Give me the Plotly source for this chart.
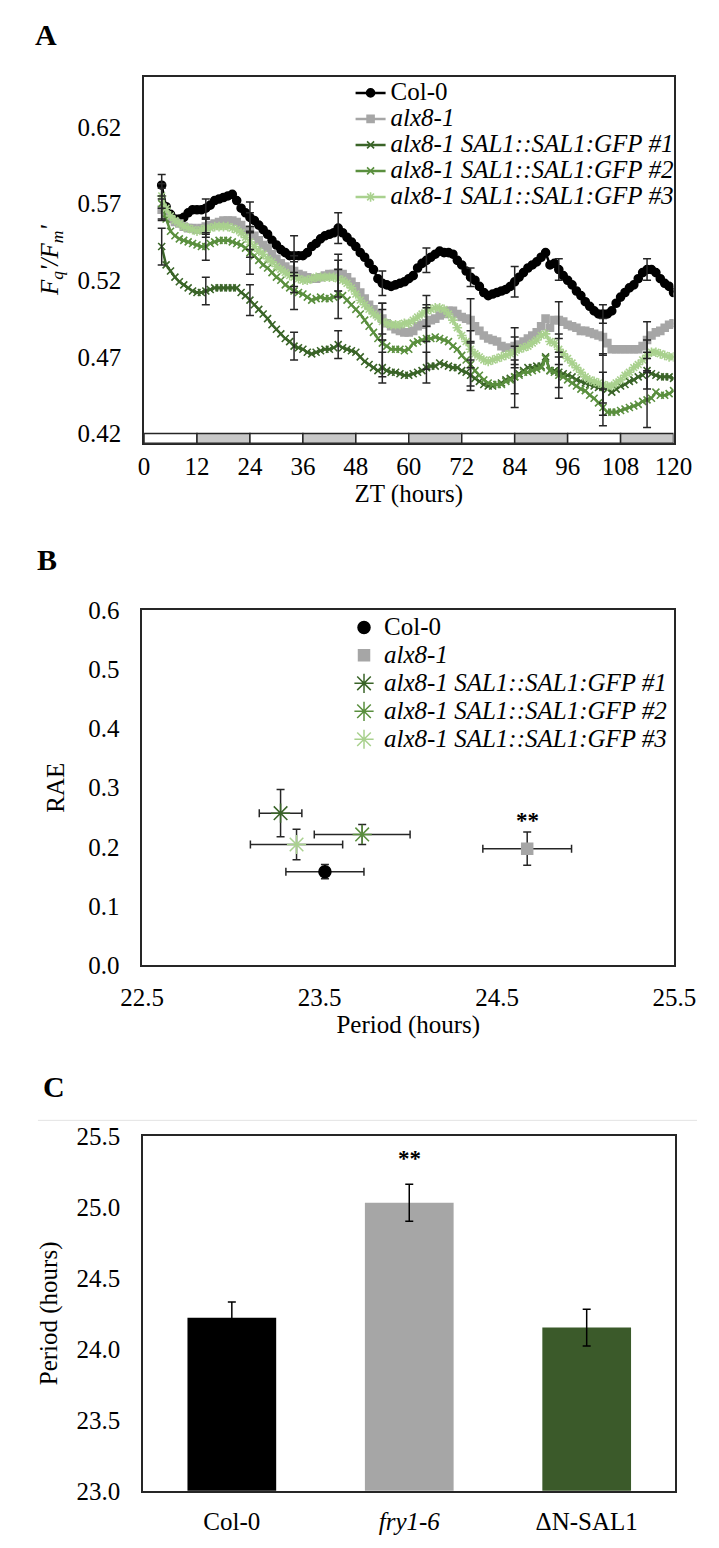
import plotly.graph_objects as go

FONT = "Liberation Serif, Times New Roman, Times, serif"
W, H = 719, 1548

# ---------------- Panel A data (ZT hours, Fq'/Fm') ----------------
zt = list(range(4, 121))
col0 = [0.582, 0.568, 0.563, 0.560, 0.560, 0.561, 0.564, 0.566, 0.566, 0.566,
        0.567, 0.569, 0.572, 0.573, 0.574, 0.575, 0.576, 0.572, 0.567, 0.564,
        0.561, 0.559, 0.556, 0.553, 0.550, 0.546, 0.543, 0.540, 0.538, 0.536,
        0.536, 0.536, 0.536, 0.538, 0.542, 0.544, 0.547, 0.549, 0.550, 0.551,
        0.554, 0.551, 0.548, 0.545, 0.542, 0.538, 0.535, 0.531, 0.527, 0.521,
        0.518, 0.517, 0.516, 0.517, 0.518, 0.519, 0.521, 0.523, 0.528, 0.531,
        0.533, 0.535, 0.537, 0.539, 0.538, 0.538, 0.537, 0.533, 0.530, 0.526,
        0.522, 0.520, 0.516, 0.512, 0.510, 0.511, 0.512, 0.513, 0.514, 0.516,
        0.519, 0.522, 0.525, 0.528, 0.530, 0.532, 0.535, 0.538, 0.530, 0.531,
        0.527, 0.523, 0.520, 0.517, 0.513, 0.510, 0.506, 0.503, 0.500, 0.498,
        0.498, 0.498, 0.500, 0.505, 0.509, 0.512, 0.515, 0.517, 0.521, 0.525,
        0.527, 0.527, 0.525, 0.521, 0.518, 0.516, 0.512]
alx8 = [0.566, 0.562, 0.560, 0.558, 0.557, 0.555, 0.554, 0.554, 0.553, 0.554,
        0.555, 0.556, 0.557, 0.558, 0.559, 0.559, 0.559, 0.558, 0.556, 0.553,
        0.552, 0.549, 0.546, 0.543, 0.541, 0.537, 0.534, 0.531, 0.529, 0.527,
        0.526, 0.524, 0.523, 0.522, 0.521, 0.521, 0.522, 0.523, 0.524, 0.524,
        0.525, 0.524, 0.522, 0.519, 0.516, 0.512, 0.508, 0.504, 0.501, 0.498,
        0.495, 0.492, 0.490, 0.488, 0.487, 0.486, 0.486, 0.487, 0.490, 0.491,
        0.492, 0.494, 0.495, 0.497, 0.498, 0.500, 0.500, 0.498, 0.496, 0.495,
        0.494, 0.490, 0.487, 0.484, 0.482, 0.481, 0.480, 0.477, 0.476, 0.476,
        0.477, 0.478, 0.480, 0.482, 0.484, 0.486, 0.490, 0.495, 0.489, 0.494,
        0.494, 0.493, 0.491, 0.490, 0.489, 0.487, 0.487, 0.486, 0.485, 0.484,
        0.483, 0.479, 0.475, 0.475, 0.475, 0.475, 0.475, 0.475, 0.475, 0.477,
        0.481, 0.484, 0.486, 0.487, 0.489, 0.491, 0.492]
gfp1 = [0.542, 0.530, 0.526, 0.522, 0.519, 0.517, 0.515, 0.513, 0.512, 0.512,
        0.513, 0.514, 0.515, 0.515, 0.515, 0.515, 0.515, 0.515, 0.512, 0.510,
        0.507, 0.504, 0.501, 0.498, 0.495, 0.491, 0.488, 0.485, 0.482, 0.480,
        0.477, 0.476, 0.475, 0.473, 0.472, 0.473, 0.474, 0.475, 0.475, 0.476,
        0.478, 0.476, 0.475, 0.474, 0.473, 0.470, 0.467, 0.465, 0.463, 0.461,
        0.463, 0.461, 0.460, 0.460, 0.459, 0.458, 0.458, 0.459, 0.460, 0.461,
        0.463, 0.464, 0.464, 0.466, 0.465, 0.464, 0.463, 0.463, 0.461, 0.460,
        0.458, 0.456, 0.454, 0.452, 0.451, 0.451, 0.452, 0.453, 0.455, 0.456,
        0.457, 0.459, 0.461, 0.463, 0.463, 0.464, 0.464, 0.470, 0.461, 0.461,
        0.460, 0.459, 0.458, 0.457, 0.455, 0.454, 0.453, 0.452, 0.451, 0.450,
        0.450, 0.449, 0.447, 0.449, 0.451, 0.452, 0.454, 0.455, 0.457, 0.458,
        0.461, 0.459, 0.458, 0.457, 0.457, 0.457, 0.456]
gfp2 = [0.570, 0.560, 0.552, 0.549, 0.547, 0.546, 0.545, 0.544, 0.543, 0.542,
        0.542, 0.544, 0.545, 0.546, 0.546, 0.546, 0.545, 0.544, 0.543, 0.541,
        0.538, 0.536, 0.533, 0.530, 0.528, 0.525, 0.522, 0.520, 0.517, 0.515,
        0.513, 0.512, 0.511, 0.509, 0.507, 0.508, 0.509, 0.508, 0.508, 0.509,
        0.511, 0.510, 0.507, 0.504, 0.501, 0.498, 0.494, 0.490, 0.486, 0.482,
        0.479, 0.477, 0.475, 0.475, 0.475, 0.474, 0.475, 0.479, 0.480, 0.481,
        0.482, 0.482, 0.483, 0.482, 0.481, 0.480, 0.477, 0.475, 0.471, 0.468,
        0.465, 0.461, 0.458, 0.455, 0.453, 0.452, 0.452, 0.452, 0.454, 0.455,
        0.457, 0.458, 0.460, 0.460, 0.461, 0.462, 0.463, 0.469, 0.461, 0.460,
        0.458, 0.457, 0.455, 0.453, 0.451, 0.449, 0.448, 0.445, 0.443, 0.440,
        0.437, 0.434, 0.434, 0.434, 0.435, 0.436, 0.437, 0.438, 0.439, 0.441,
        0.442, 0.443, 0.447, 0.445, 0.445, 0.446, 0.448]
gfp3 = [0.575, 0.567, 0.562, 0.559, 0.557, 0.555, 0.554, 0.553, 0.552, 0.553,
        0.554, 0.554, 0.555, 0.555, 0.555, 0.555, 0.554, 0.553, 0.551, 0.548,
        0.545, 0.542, 0.539, 0.537, 0.534, 0.532, 0.529, 0.527, 0.525, 0.523,
        0.522, 0.521, 0.520, 0.520, 0.521, 0.522, 0.522, 0.522, 0.522, 0.522,
        0.521, 0.520, 0.518, 0.515, 0.511, 0.507, 0.504, 0.501, 0.498, 0.496,
        0.493, 0.492, 0.491, 0.491, 0.491, 0.492, 0.492, 0.494, 0.496, 0.498,
        0.500, 0.501, 0.502, 0.502, 0.501, 0.498, 0.494, 0.489, 0.484, 0.480,
        0.475, 0.472, 0.470, 0.468, 0.467, 0.468, 0.469, 0.470, 0.471, 0.472,
        0.473, 0.475, 0.476, 0.477, 0.479, 0.481, 0.484, 0.485, 0.480, 0.479,
        0.475, 0.472, 0.469, 0.466, 0.463, 0.460, 0.457, 0.455, 0.454, 0.453,
        0.452, 0.451, 0.451, 0.453, 0.455, 0.458, 0.460, 0.463, 0.465, 0.468,
        0.471, 0.473, 0.473, 0.472, 0.471, 0.470, 0.470]

err_zt = [4, 14, 24, 34, 44, 54, 64, 74, 84, 94, 104, 114]
err_col0 = [0.007, 0.006, 0.010, 0.013, 0.010, 0.008, 0.008, 0.006, 0.010, 0.007, 0.006, 0.007]
err_alx8 = [0.007, 0.005, 0.012, 0.010, 0.012, 0.010, 0.012, 0.014, 0.012, 0.012, 0.012, 0.012]
err_gfp1 = [0.012, 0.009, 0.010, 0.009, 0.009, 0.010, 0.010, 0.010, 0.011, 0.010, 0.010, 0.012]
err_gfp2 = [0.010, 0.009, 0.014, 0.012, 0.016, 0.022, 0.020, 0.014, 0.020, 0.015, 0.012, 0.018]
err_gfp3 = [0.008, 0.006, 0.010, 0.010, 0.012, 0.012, 0.010, 0.012, 0.010, 0.010, 0.020, 0.010]

# light/dark schedule (12 h light / 12 h dark)
phase_bounds = list(range(0, 121, 12))
phase_dark = [False, True, False, True, False, True, False, True, False, True]

genotypes = ["Col-0", "alx8-1", "alx8-1 SAL1::SAL1:GFP #1",
             "alx8-1 SAL1::SAL1:GFP #2", "alx8-1 SAL1::SAL1:GFP #3"]
genotype_italic = [False, True, True, True, True]

# ---------------- Panel B data ----------------
b_period = [23.53, 24.67, 23.28, 23.74, 23.37]
b_period_err = [0.22, 0.25, 0.12, 0.27, 0.26]
b_rae = [0.158, 0.197, 0.257, 0.221, 0.204]
b_rae_err = [0.012, 0.028, 0.040, 0.017, 0.026]

# ---------------- Panel C data ----------------
c_lines = ["Col-0", "fry1-6", "ΔN-SAL1"]
c_italic = [False, True, False]
c_period = [24.22, 25.03, 24.15]
c_err = [0.11, 0.13, 0.13]

# ---------------- styles ----------------
colors = ["#000000", "#a6a6a6", "#3a6428", "#5a8f3e", "#a9d18e"]
symbolsA = ["circle", "square", "x-thin-open", "x-thin-open", "asterisk-open"]
sizesA = [8, 7, 7, 7, 8]
symbolsB = ["circle", "square", "asterisk-open", "asterisk-open", "asterisk-open"]
sizesB = [12, 11, 16, 16, 16]
c_colors = ["#000000", "#a6a6a6", "#3b5a2a"]
ERRC = "#262626"
FS = 25


def lab(text, italic):
    t = f"<i>{text}</i>" if italic else text
    return f'<span style="font-size:{FS}px">{t}</span>'


def px_y(v):
    return 1 - v / H


fig = go.Figure()

seriesA = [col0, alx8, gfp1, gfp2, gfp3]
errsA = [err_col0, err_alx8, err_gfp1, err_gfp2, err_gfp3]
for name, it, vals, c, sym, sz in zip(genotypes, genotype_italic, seriesA, colors, symbolsA, sizesA):
    fig.add_trace(go.Scatter(
        x=zt, y=vals, mode="lines+markers", name=lab(name, it),
        line=dict(color=c, width=2.5),
        marker=dict(symbol=sym, size=sz, color=c, line=dict(color=c, width=1.6)),
        xaxis="x", yaxis="y", legend="legend"))
for vals, errs in zip(seriesA, errsA):
    fig.add_trace(go.Scatter(
        x=err_zt, y=[vals[zt.index(t)] for t in err_zt], mode="markers",
        marker=dict(size=1, color="rgba(0,0,0,0)"),
        error_y=dict(type="data", array=errs, color=ERRC, thickness=1.5, width=4),
        xaxis="x", yaxis="y", showlegend=False, hoverinfo="skip"))

for i, name in enumerate(genotypes):
    fig.add_trace(go.Scatter(
        x=[b_period[i]], y=[b_rae[i]], mode="markers", name=lab(name, genotype_italic[i]),
        marker=dict(symbol=symbolsB[i], size=sizesB[i], color=colors[i],
                    line=dict(color=colors[i], width=1.5)),
        error_x=dict(type="data", array=[b_period_err[i]], color=ERRC, thickness=1.5, width=4),
        error_y=dict(type="data", array=[b_rae_err[i]], color=ERRC, thickness=1.5, width=4),
        xaxis="x2", yaxis="y2", legend="legend2"))

fig.add_trace(go.Bar(
    x=c_lines, y=c_period, marker=dict(color=c_colors, line=dict(width=0)), width=0.5,
    error_y=dict(type="data", array=c_err, color="black", thickness=1.5, width=4),
    xaxis="x3", yaxis="y3", showlegend=False))

tickfont = dict(family=FONT, size=FS, color="black")
titlefont = dict(family=FONT, size=FS, color="black")
base = dict(showline=True, linecolor="#262626", linewidth=1.5, mirror=True,
            showgrid=False, zeroline=False, ticks="", tickfont=tickfont)

fig.update_layout(
    width=W, height=H, margin=dict(l=0, r=0, t=0, b=0),
    paper_bgcolor="white", plot_bgcolor="white",
    font=dict(family=FONT, color="black"),
    xaxis=dict(base, domain=[130 / W, 694 / W], range=[0, 120], anchor="y",
               tickmode="array", tickvals=phase_bounds, ticklabelstandoff=0,
               title=dict(text="ZT (hours)", font=titlefont, standoff=4)),
    yaxis=dict(base, domain=[px_y(438), px_y(65)], range=[0.41359, 0.65269], anchor="x",
               tickmode="array", tickvals=[0.42, 0.47, 0.52, 0.57, 0.62], tickformat=".2f",
               ticklabelstandoff=16,
               title=dict(text="<i>F<sub>q</sub>'/F<sub>m</sub>'</i>", font=titlefont, standoff=12)),
    xaxis2=dict(base, domain=[128 / W, 695 / W], range=[22.5, 25.5], anchor="y2",
                tickmode="array", tickvals=[22.5, 23.5, 24.5, 25.5], tickformat=".1f",
                ticklabelstandoff=9,
                title=dict(text="Period (hours)", font=titlefont, standoff=4)),
    yaxis2=dict(base, domain=[px_y(969), px_y(608)], range=[0, 0.6], anchor="x2",
                tickmode="array", tickvals=[0, 0.1, 0.2, 0.3, 0.4, 0.5, 0.6], tickformat=".1f",
                ticklabelstandoff=16,
                title=dict(text="RAE", font=titlefont, standoff=16)),
    xaxis3=dict(base, domain=[129 / W, 696 / W], anchor="y3", type="category",
                tickmode="array", tickvals=c_lines,
                ticktext=[f"<i>{t}</i>" if it else t for t, it in zip(c_lines, c_italic)],
                ticklabelstandoff=7),
    yaxis3=dict(base, domain=[px_y(1504), px_y(1143)], range=[23, 25.5], anchor="x3",
                tickmode="array", tickvals=[23.0, 23.5, 24.0, 24.5, 25.0, 25.5], tickformat=".1f",
                ticklabelstandoff=16,
                title=dict(text="Period (hours)", font=titlefont, standoff=12)),
    legend=dict(x=350 / W, xanchor="left", y=px_y(63), yanchor="top",
                font=dict(family=FONT, size=17.7, color="black"),
                bgcolor="rgba(0,0,0,0)", borderwidth=0, itemwidth=30, tracegroupgap=0),
    legend2=dict(x=343 / W, xanchor="left", y=px_y(606), yanchor="top",
                 font=dict(family=FONT, size=19.2, color="black"),
                 bgcolor="rgba(0,0,0,0)", borderwidth=0, itemwidth=30, tracegroupgap=0),
    bargap=0.5,
)

shapes = []
for i, dark in enumerate(phase_dark):
    shapes.append(dict(type="rect", xref="x", yref="y",
                       x0=phase_bounds[i], x1=phase_bounds[i + 1], y0=0.41359, y1=0.42,
                       fillcolor="#c8c8c8" if dark else "white",
                       line=dict(color="#262626", width=1.5), layer="above"))
shapes.append(dict(type="line", xref="paper", yref="paper", x0=17 / W, x1=1,
                   y0=px_y(1127), y1=px_y(1127), line=dict(color="#e3e3e3", width=1)))
fig.update_layout(shapes=shapes)

letter_font = dict(family=FONT, size=30, color="black")
ann = [
    dict(text="<b>A</b>", x=12 / W, y=px_y(22), xref="paper", yref="paper",
         xanchor="left", yanchor="middle", showarrow=False, font=letter_font),
    dict(text="<b>B</b>", x=14 / W, y=px_y(556), xref="paper", yref="paper",
         xanchor="left", yanchor="middle", showarrow=False, font=letter_font),
    dict(text="<b>C</b>", x=20 / W, y=px_y(1093), xref="paper", yref="paper",
         xanchor="left", yanchor="middle", showarrow=False, font=letter_font),
    dict(text="<b>**</b>", x=b_period[1], y=b_rae[1] + b_rae_err[1] + 0.02, xref="x2", yref="y2",
         showarrow=False, font=dict(family=FONT, size=23, color="black"), yanchor="middle"),
    dict(text="<b>**</b>", x=c_lines[1], y=c_period[1] + c_err[1] + 0.18, xref="x3", yref="y3",
         showarrow=False, font=dict(family=FONT, size=23, color="black"), yanchor="middle"),
]
fig.update_layout(annotations=ann)

fig.write_html("out.html")
